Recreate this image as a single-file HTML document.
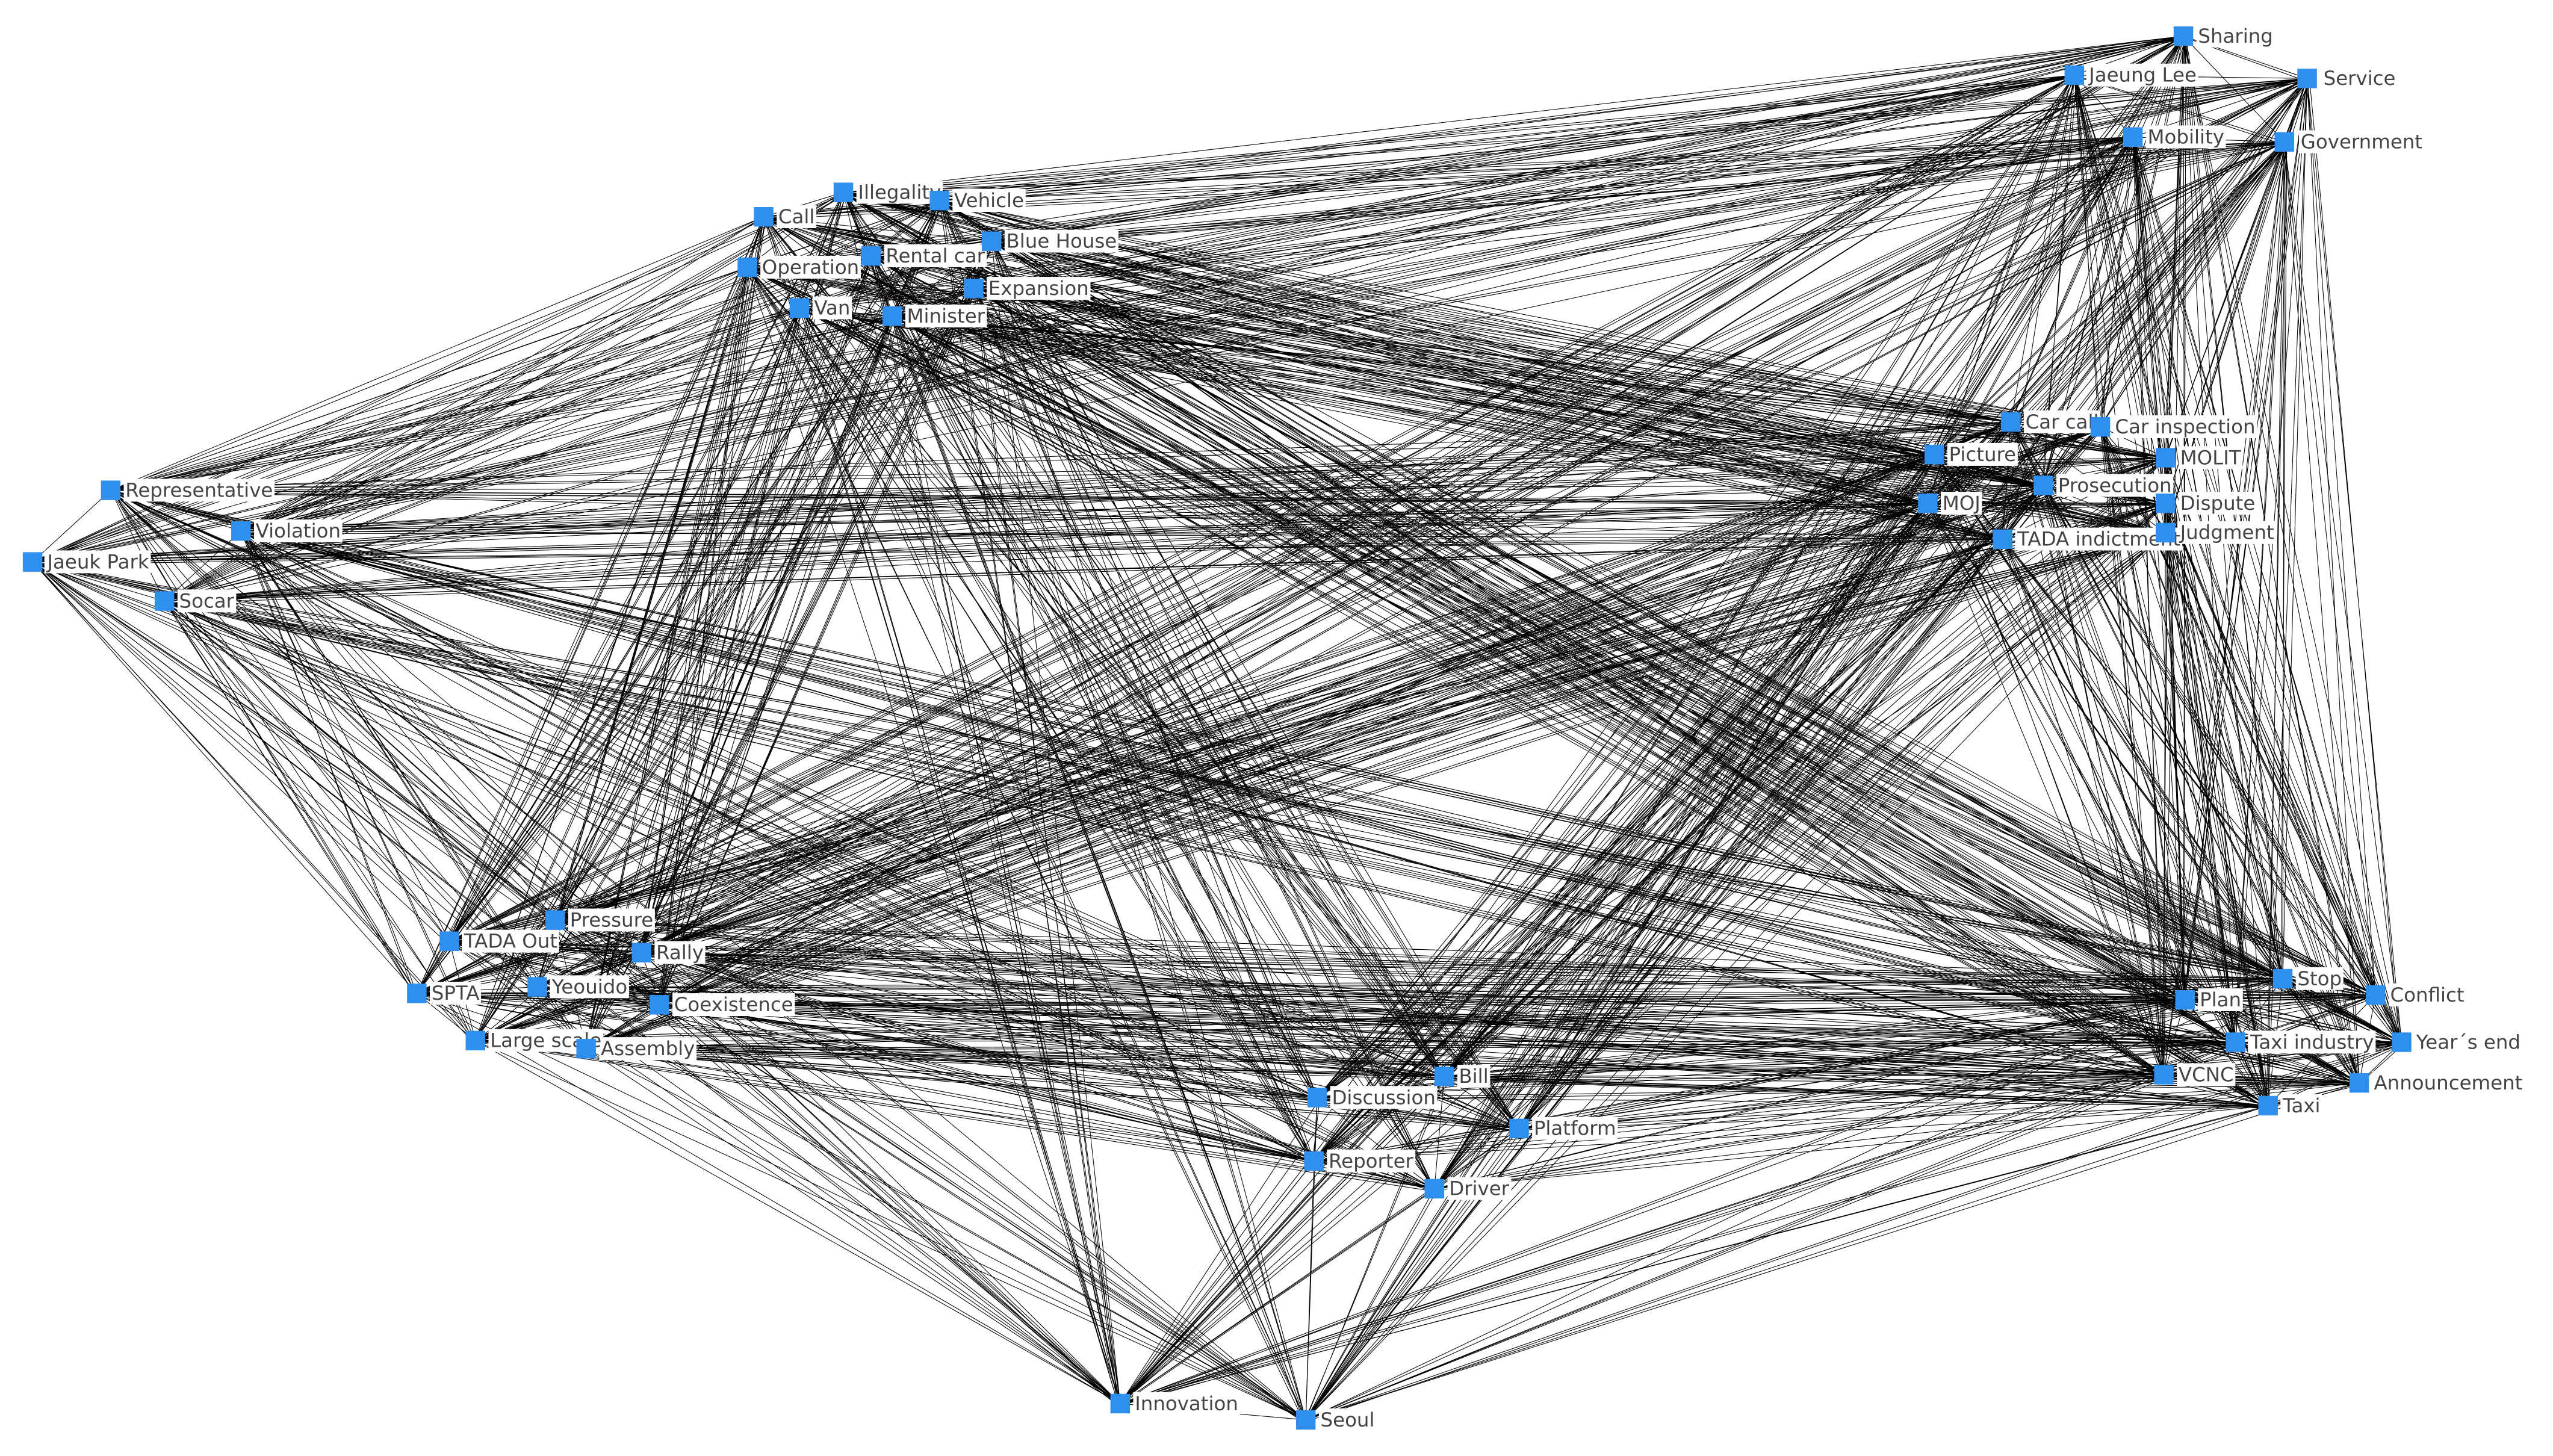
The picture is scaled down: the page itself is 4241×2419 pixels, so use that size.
<!DOCTYPE html>
<html><head><meta charset="utf-8">
<style>
html,body{margin:0;padding:0;background:#fff;}
svg{display:block;}
text{font-family:"DejaVu Sans","Liberation Sans",sans-serif;font-size:12px;fill:#444;}
</style></head>
<body>
<svg id="g" xmlns="http://www.w3.org/2000/svg" width="4241" height="2419" viewBox="0 0 1568 894">
<rect width="1568" height="894" fill="#fff"/>
<g id="edges" stroke="#000" stroke-width="0.38" stroke-opacity="1"></g>
<g id="lblbg" fill="#fff"></g>
<g id="labels">
<text x="1339" y="331">Judgment</text>
<text x="1350" y="26">Sharing</text>
<text x="1283" y="50">Jaeung Lee</text>
<text x="1427" y="52">Service</text>
<text x="1319" y="88">Mobility</text>
<text x="1413" y="91">Government</text>
<text x="527" y="122">Illegality</text>
<text x="586" y="127">Vehicle</text>
<text x="478" y="137">Call</text>
<text x="618" y="152">Blue House</text>
<text x="544" y="161">Rental car</text>
<text x="468" y="168">Operation</text>
<text x="607" y="181">Expansion</text>
<text x="500" y="193">Van</text>
<text x="557" y="198">Minister</text>
<text x="1244" y="263">Car call</text>
<text x="1299" y="266">Car inspection</text>
<text x="1197" y="283">Picture</text>
<text x="1339" y="285">MOLIT</text>
<text x="1264" y="302">Prosecution</text>
<text x="1193" y="313">MOJ</text>
<text x="1339" y="313">Dispute</text>
<text x="1239" y="335">TADA indictment</text>
<text x="77" y="305">Representative</text>
<text x="157" y="330">Violation</text>
<text x="29" y="349">Jaeuk Park</text>
<text x="110" y="373">Socar</text>
<text x="350" y="569">Pressure</text>
<text x="285" y="582">TADA Out</text>
<text x="403" y="589">Rally</text>
<text x="265" y="614">SPTA</text>
<text x="339" y="610">Yeouido</text>
<text x="414" y="621">Coexistence</text>
<text x="301" y="643">Large scale</text>
<text x="369" y="648">Assembly</text>
<text x="1351" y="618">Plan</text>
<text x="1411" y="605">Stop</text>
<text x="1468" y="615">Conflict</text>
<text x="1382" y="644">Taxi industry</text>
<text x="1484" y="644">Year´s end</text>
<text x="1338" y="664">VCNC</text>
<text x="1458" y="669">Announcement</text>
<text x="1402" y="683">Taxi</text>
<text x="896" y="665">Bill</text>
<text x="818" y="678">Discussion</text>
<text x="942" y="697">Platform</text>
<text x="816" y="717">Reporter</text>
<text x="890" y="734">Driver</text>
<text x="697" y="866">Innovation</text>
<text x="811" y="876">Seoul</text>
</g>
<g id="nodes" fill="#2f8fef"></g>
</svg>
<script>
var N=[[1341,22],[1274,46],[1417,48],[1310,84],[1403,87],[518,118],[577,123],[469,133],[609,148],[535,157],[459,164],[598,177],[491,189],[548,194],[1330,327],[1235,259],[1290,262],[1188,279],[1330,281],[1255,298],[1184,309],[1330,309],[1230,331],[68,301],[148,326],[20,345],[101,369],[341,565],[276,578],[394,585],[256,610],[330,606],[405,617],[292,639],[360,644],[1342,614],[1402,601],[1459,611],[1373,640],[1475,640],[1329,660],[1449,665],[1393,679],[887,661],[809,674],[933,693],[807,713],[881,730],[688,862],[802,872]];
var NS="http://www.w3.org/2000/svg";
var e=document.getElementById("edges");
var s=7;
function rnd(){s=(s*9301+49297)%233280;return s/233280;}
var d="";
for(var i=0;i<N.length;i++)for(var j=i+1;j<N.length;j++){
 if(rnd()<0.93) d+="M"+N[i][0]+" "+N[i][1]+"L"+N[j][0]+" "+N[j][1];
 if(rnd()<0.35) d+="M"+(N[i][0]+1.5)+" "+(N[i][1]+1)+"L"+(N[j][0]-1)+" "+(N[j][1]+1.5);
}
var p=document.createElementNS(NS,"path");p.setAttribute("d",d);p.setAttribute("fill","none");e.appendChild(p);
var bg=document.getElementById("lblbg");
var ts=document.querySelectorAll("#labels text");
for(var k=0;k<ts.length;k++){var b=ts[k].getBBox();var r=document.createElementNS(NS,"rect");
r.setAttribute("x",b.x-1);r.setAttribute("y",b.y);r.setAttribute("width",b.width+2);r.setAttribute("height",b.height);bg.appendChild(r);}
var g=document.getElementById("nodes");
for(var i=0;i<N.length;i++){var r=document.createElementNS(NS,"rect");
r.setAttribute("x",N[i][0]-6);r.setAttribute("y",N[i][1]-6);r.setAttribute("width",12);r.setAttribute("height",12);g.appendChild(r);}
</script>
</body></html>
